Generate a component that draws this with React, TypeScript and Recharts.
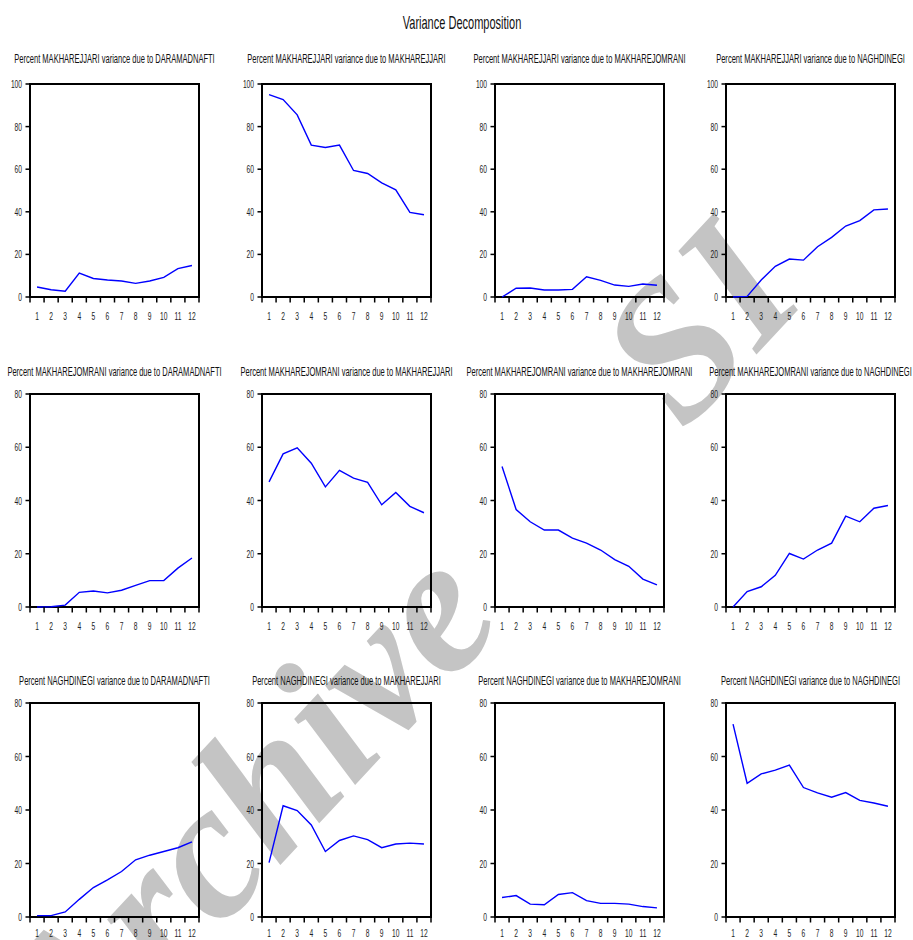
import { LineChart, Line, XAxis, YAxis, ReferenceArea } from "recharts";

// horizons 1..12
const periods = [1, 2, 3, 4, 5, 6, 7, 8, 9, 10, 11, 12];
const ticks100 = [0, 20, 40, 60, 80, 100];
const ticks80 = [0, 20, 40, 60, 80];

const responses = ["MAKHAREJJARI", "MAKHAREJOMRANI", "NAGHDINEGI"];
const shocks = ["DARAMADNAFTI", "MAKHAREJJARI", "MAKHAREJOMRANI", "NAGHDINEGI"];

// MAKHAREJJARI
const mjDaramad = [4.7, 3.4, 2.7, 11.2, 8.7, 8.0, 7.5, 6.4, 7.5, 9.2, 13.3, 14.8];
const mjMakharejjari = [95.0, 92.7, 85.5, 71.3, 70.2, 71.3, 59.4, 58.0, 53.6, 50.3, 39.7, 38.6];
const mjMakharejomrani = [0, 4.1, 4.2, 3.3, 3.3, 3.6, 9.5, 7.8, 5.6, 5.0, 6.1, 5.5];
const mjNaghdinegi = [0, 0.3, 8.0, 14.4, 17.8, 17.3, 23.6, 28.0, 33.3, 35.9, 40.9, 41.3];

// MAKHAREJOMRANI
const moDaramad = [0, 0.1, 0.7, 5.5, 6.0, 5.3, 6.3, 8.1, 9.9, 9.9, 14.6, 18.4];
const moMakharejjari = [47.0, 57.5, 59.8, 54.0, 45.1, 51.3, 48.4, 46.8, 38.4, 43.0, 37.8, 35.4];
const moMakharejomrani = [52.8, 36.6, 32.0, 28.9, 28.9, 25.9, 24.0, 21.4, 17.8, 15.3, 10.5, 8.3];
const moNaghdinegi = [0, 5.8, 7.6, 11.9, 20.1, 18.0, 21.4, 24.0, 34.1, 32.0, 37.1, 38.1];

// NAGHDINEGI
const ngDaramad = [0.5, 0.5, 1.9, 6.6, 11.0, 13.9, 17.0, 21.4, 23.1, 24.5, 25.9, 28.1];
const ngMakharejjari = [20.3, 41.6, 39.8, 34.4, 24.5, 28.6, 30.3, 28.9, 25.9, 27.3, 27.6, 27.3];
const ngMakharejomrani = [7.3, 8.0, 4.8, 4.6, 8.4, 9.1, 6.1, 5.1, 5.1, 4.8, 3.9, 3.4];
const ngNaghdinegi = [72.1, 50.0, 53.5, 54.9, 56.8, 48.4, 46.4, 44.8, 46.5, 43.6, 42.6, 41.4];

const grid = [
  [mjDaramad, mjMakharejjari, mjMakharejomrani, mjNaghdinegi],
  [moDaramad, moMakharejjari, moMakharejomrani, moNaghdinegi],
  [ngDaramad, ngMakharejjari, ngMakharejomrani, ngNaghdinegi],
];
const rowTicks = [ticks100, ticks80, ticks80];

// layout of the plot boxes
const colLefts = [30, 262, 495, 726];
const rowTops = [84, 394, 703];
const rowHeights = [213, 213, 214];
const rowTitleY = [63, 376, 685];
const rowLabelDy = [23, 23, 20]; // last row sits on the page edge
const PLOT_W = 169;
const Y_W = 30;
const X_H = 30;
const PAD = 10;

const FONT = "'Liberation Sans', Arial, sans-serif";
const SX = 0.58; // the source graphic is squeezed horizontally

// tick marks sit on the band edges, labels in the middle
const edges = [0.5, ...periods.map((p) => p + 0.5)];
const xTicks = [...edges, ...periods].sort((a, b) => a - b);

const XTick = ({ x, y, payload, labelDy }: any) => {
  const v = payload.value;
  if (!Number.isInteger(v)) {
    return <path d={`M${x},${y}v5.5`} stroke="#000" strokeWidth={1.5} fill="none" />;
  }
  return (
    <text
      transform={`translate(${x},${y + labelDy}) scale(${SX},1)`}
      textAnchor="middle"
      fontSize={11.5}
      fontFamily={FONT}
      fill="#222"
    >
      {v}
    </text>
  );
};

// label at x (right aligned), tick mark from x+4 to the axis
const YTick = ({ x, y, payload }: any) => (
  <g>
    <path d={`M${x + 3.5},${y}h5`} stroke="#000" strokeWidth={1.5} fill="none" />
    <text
      transform={`translate(${x},${y + 4}) scale(${SX},1)`}
      textAnchor="end"
      fontSize={11.5}
      fontFamily={FONT}
      fill="#222"
    >
      {payload.value}
    </text>
  </g>
);

function Panel({ values, ticks, left, top, height, labelDy }: any) {
  const data = periods.map((p, i) => ({ period: p, value: values[i] }));
  const yMax = ticks[ticks.length - 1];
  return (
    <div style={{ position: "absolute", left: left - Y_W, top: top - PAD }}>
      <LineChart
        width={Y_W + PLOT_W + PAD}
        height={PAD + height + X_H}
        data={data}
        margin={{ top: PAD, right: PAD, left: 0, bottom: 0 }}
      >
        <XAxis
          dataKey="period"
          type="number"
          domain={[0.5, 12.5]}
          ticks={xTicks}
          interval={0}
          tick={<XTick labelDy={labelDy} />}
          tickLine={false}
          tickSize={0}
          tickMargin={0}
          height={X_H}
          axisLine={false}
        />
        <YAxis
          domain={[0, yMax]}
          ticks={ticks}
          interval={0}
          width={Y_W}
          tick={<YTick />}
          tickLine={false}
          tickSize={4}
          tickMargin={4}
          axisLine={false}
        />
        {/* plot frame */}
        <ReferenceArea
          x1={0.5}
          x2={12.5}
          y1={0}
          y2={yMax}
          fill="none"
          fillOpacity={0}
          stroke="#000"
          strokeWidth={2}
          ifOverflow="visible"
        />
        <Line
          type="linear"
          dataKey="value"
          stroke="#0000ff"
          strokeWidth={1.4}
          dot={false}
          isAnimationActive={false}
        />
      </LineChart>
    </div>
  );
}

export default function App() {
  return (
    <div
      style={{
        position: "absolute",
        left: 0,
        top: 0,
        width: 913,
        height: 940,
        overflow: "hidden",
        background: "#fff",
      }}
    >
      <svg width={913} height={940} style={{ position: "absolute", left: 0, top: 0 }}>
        {/* watermark of the source document, only partly visible there */}
        <g transform="translate(492,638) rotate(-47)">
          <defs>
            <clipPath id="wmClip">
              <rect x={-900} y={-300} width={928} height={600} />
              <rect x={270} y={-300} width={192} height={600} />
            </clipPath>
          </defs>
          <text
            x={0}
            y={0}
            textAnchor="middle"
            textLength={1213}
            lengthAdjust="spacing"
            fontFamily="'Liberation Serif', 'Times New Roman', serif"
            fontStyle="italic"
            fontWeight="bold"
            fontSize={195}
            fill="#c4c4c4"
            clipPath="url(#wmClip)"
          >
            Archive of SID
          </text>
        </g>
        <text
          transform={`translate(462,29) scale(${SX},1)`}
          textAnchor="middle"
          fontSize={19}
          fontFamily={FONT}
          fill="#111"
        >
          Variance Decomposition
        </text>
        {responses.map((r, ri) =>
          shocks.map((s, ci) => (
            <text
              key={`${ri}-${ci}`}
              transform={`translate(${colLefts[ci] + PLOT_W / 2},${rowTitleY[ri]}) scale(${SX},1)`}
              textAnchor="middle"
              fontSize={13}
              fontFamily={FONT}
              fill="#111"
            >
              {`Percent ${r} variance due to ${s}`}
            </text>
          ))
        )}
      </svg>
      {grid.map((row, ri) =>
        row.map((values, ci) => (
          <Panel
            key={`${ri}-${ci}`}
            values={values}
            ticks={rowTicks[ri]}
            left={colLefts[ci]}
            top={rowTops[ri]}
            height={rowHeights[ri]}
            labelDy={rowLabelDy[ri]}
          />
        ))
      )}
    </div>
  );
}
